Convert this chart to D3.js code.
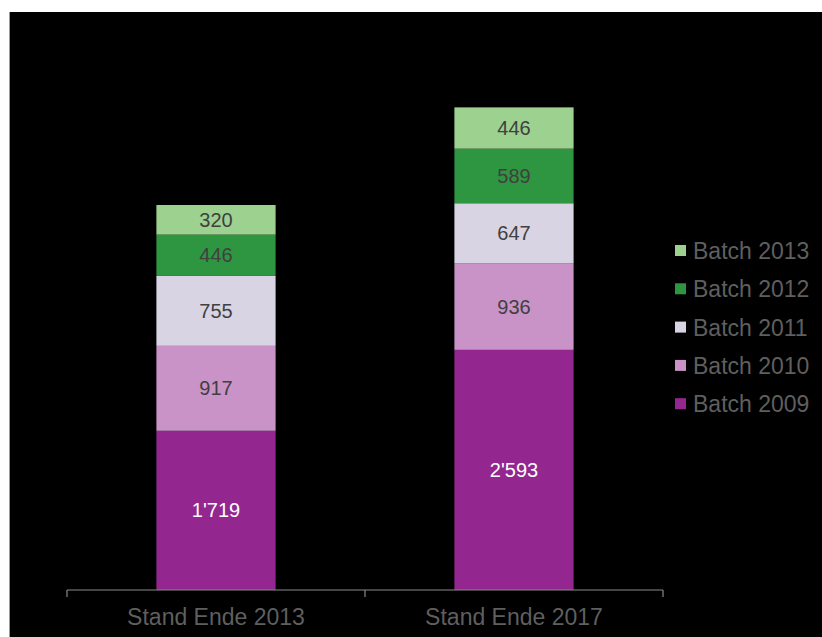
<!DOCTYPE html>
<html><head><meta charset="utf-8">
<script src="https://cdn.jsdelivr.net/npm/d3@7"></script>
<style>html,body{margin:0;padding:0;background:#fff;}svg{display:block;}</style>
</head><body>
<script>
const categories = ["Stand Ende 2013", "Stand Ende 2017"];
const seriesNames = ["Batch 2009", "Batch 2010", "Batch 2011", "Batch 2012", "Batch 2013"];
const batch2009 = [1719, 2593];
const batch2010 = [917, 936];
const batch2011 = [755, 647];
const batch2012 = [446, 589];
const batch2013 = [320, 446];
const seriesColors = ["#93278f", "#c993c7", "#d9d4e3", "#2e9640", "#9cd18f"];
const labelColors = ["#ffffff", "#404040", "#404040", "#404040", "#404040"];

const W = 822, H = 637;
const svg = d3.select("body").append("svg").attr("width", W).attr("height", H);
svg.append("rect").attr("x", 10).attr("y", 12).attr("width", W - 10).attr("height", H - 12).attr("fill", "#000");
svg.append("line").attr("x1", 9.5).attr("x2", 9.5).attr("y1", 12).attr("y2", H).attr("stroke", "#9a9a9a");

const seriesValues = [batch2009, batch2010, batch2011, batch2012, batch2013];
const table = categories.map((c, i) => {
  const o = {cat: c};
  seriesNames.forEach((s, j) => o[s] = seriesValues[j][i]);
  return o;
});
const stack = d3.stack().keys(seriesNames)(table);

const x = d3.scaleBand().domain(categories).range([67, 663]).paddingInner(0.6).paddingOuter(0.3);
const y = d3.scaleLinear().domain([0, 6000]).range([590, 34.3]);

const font = "'Liberation Sans', Arial, sans-serif";

stack.forEach((layer, j) => {
  const g = svg.append("g");
  g.selectAll("rect").data(layer).join("rect")
    .attr("x", d => x(d.data.cat))
    .attr("width", x.bandwidth())
    .attr("y", d => y(d[1]))
    .attr("height", d => y(d[0]) - y(d[1]))
    .attr("fill", seriesColors[j]);
  g.selectAll("text").data(layer).join("text")
    .attr("x", d => x(d.data.cat) + x.bandwidth() / 2)
    .attr("y", d => (y(d[0]) + y(d[1])) / 2)
    .attr("dy", "0.35em")
    .attr("text-anchor", "middle")
    .attr("font-family", font)
    .attr("font-size", 20)
    .attr("fill", labelColors[j])
    .text(d => d3.format(",")(d[1] - d[0]).replace(/,/g, "'"));
});

// axis
const axisY = 590;
svg.append("line").attr("x1", 67).attr("x2", 663).attr("y1", axisY).attr("y2", axisY).attr("stroke", "#8a8a8a").attr("stroke-width", 1.2);
const edges = [67, 365, 663];
edges.forEach(e => {
  svg.append("line").attr("x1", e).attr("x2", e).attr("y1", axisY).attr("y2", axisY + 7).attr("stroke", "#8a8a8a").attr("stroke-width", 1.2);
});
svg.selectAll("text.cat").data(categories).join("text").attr("class", "cat")
  .attr("x", d => x(d) + x.bandwidth() / 2)
  .attr("y", 617)
  .attr("dy", "0.35em")
  .attr("text-anchor", "middle")
  .attr("font-family", font)
  .attr("font-size", 23)
  .attr("fill", "#5f5f5f")
  .text(d => d);

// legend
const legendOrder = seriesNames.map((s, j) => j).reverse();
const leg = svg.append("g");
legendOrder.forEach((j, k) => {
  const cy = 251 + k * 38.3;
  leg.append("rect").attr("x", 675).attr("y", cy - 6).attr("width", 11).attr("height", 11).attr("fill", seriesColors[j]);
  leg.append("text").attr("x", 693).attr("y", cy).attr("dy", "0.35em")
    .attr("font-family", font).attr("font-size", 23).attr("fill", "#5f5f5f")
    .text(seriesNames[j]);
});
</script>
</body></html>
